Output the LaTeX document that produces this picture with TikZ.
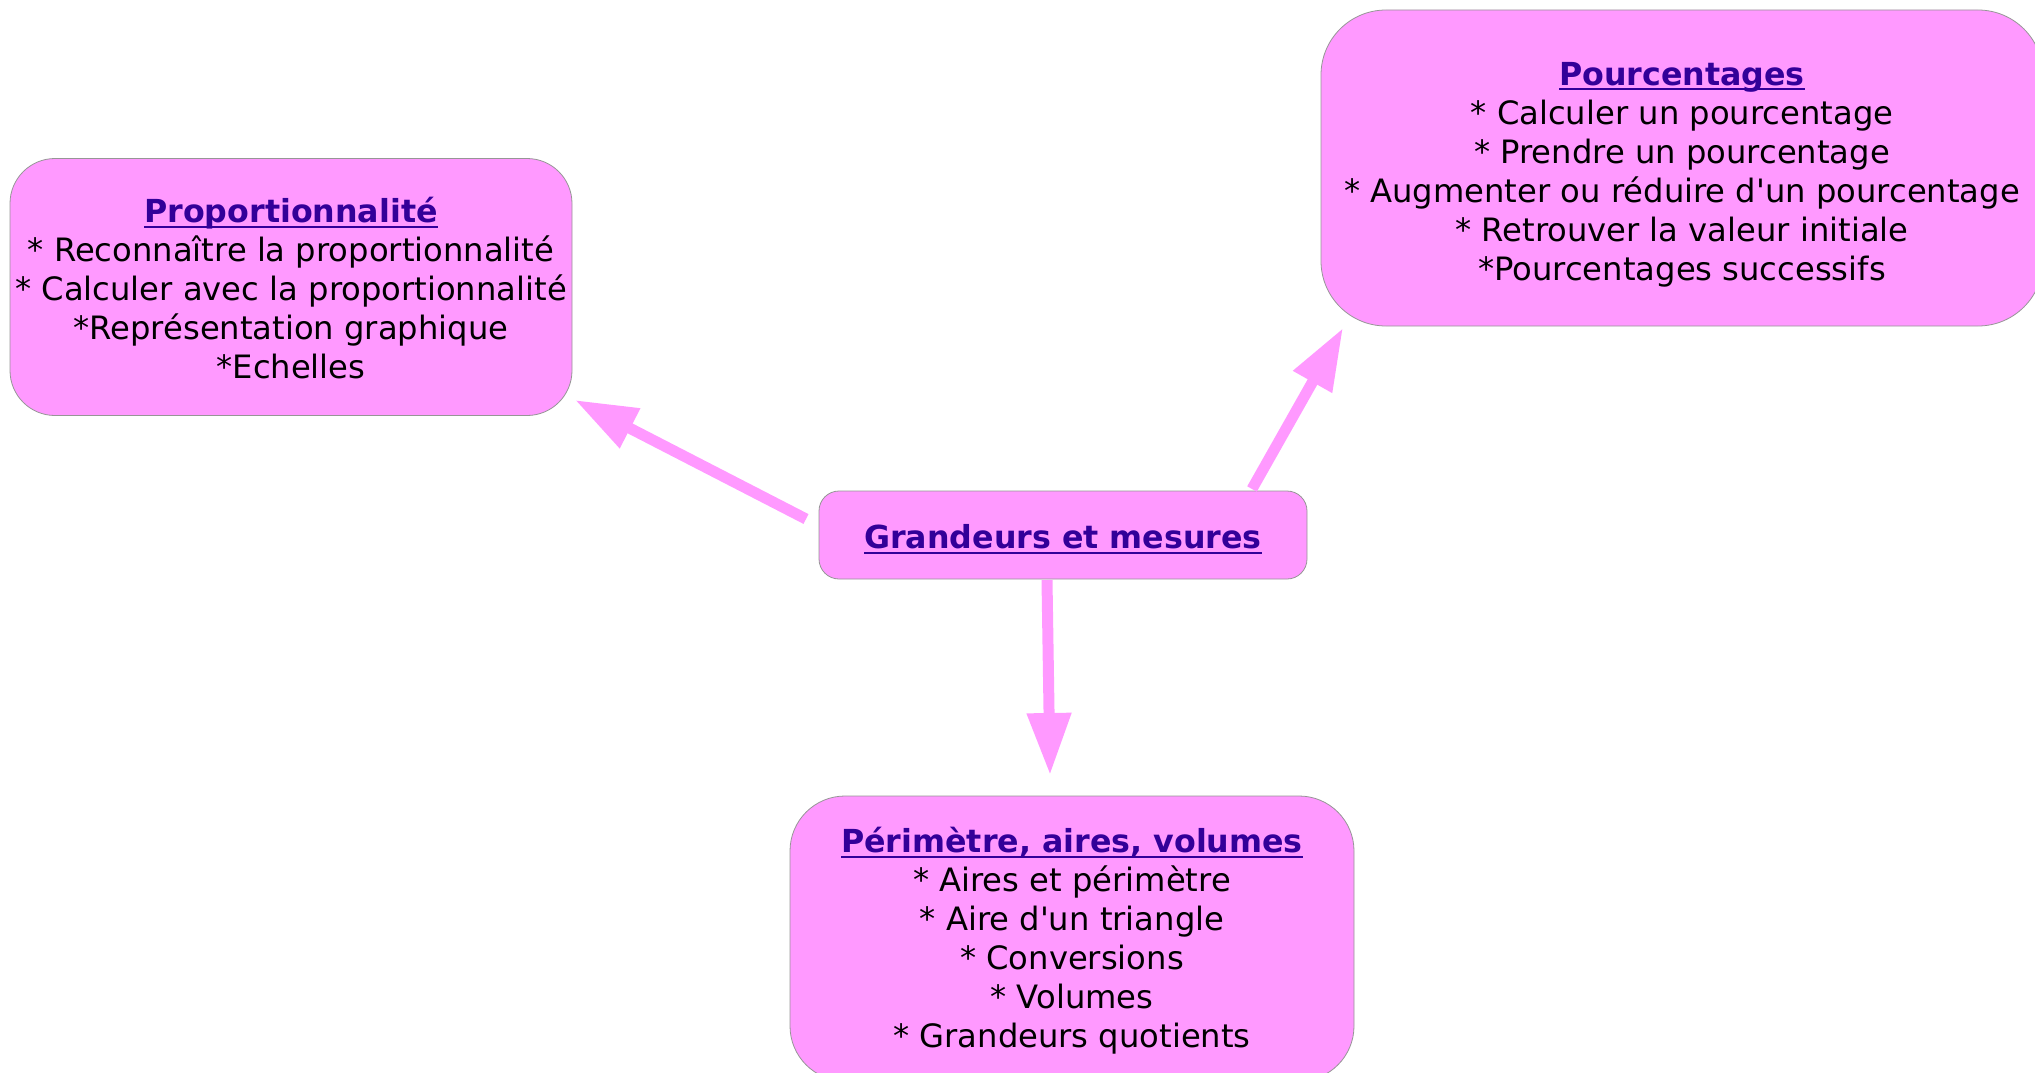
\documentclass[tikz,border=0pt]{standalone}
\usepackage{fontspec}
\setmainfont{DejaVu Sans}
\usetikzlibrary{arrows.meta}
\definecolor{boxpink}{RGB}{255,153,255}
\definecolor{hdcol}{RGB}{51,0,153}
\definecolor{edgegray}{RGB}{150,150,150}
\newcommand\hd[1]{{\color{hdcol}\fontsize{31.7}{39}\selectfont\bfseries\setbox0\hbox{#1}\rlap{\rule[-5pt]{\wd0}{2pt}}\box0}}
\newcommand\apos{\textquotesingle}
\tikzset{
  mbox/.style={draw=edgegray, line width=0.8pt, fill=boxpink,
    inner sep=0pt, outer sep=0pt},
  mtext/.style={align=center, inner sep=0pt, font={\fontsize{32.2}{39}\selectfont}},
  link/.style={draw=boxpink, line width=11pt,
    -{Triangle[width=42pt,length=62pt]}}
}
\begin{document}
\begin{tikzpicture}[x=1pt,y=-1pt]
\useasboundingbox (0,0) rectangle (2035,1073);
\clip (0,0) rectangle (2035,1073);
\node[mbox, rounded corners=45pt, minimum width=562pt, minimum height=257pt] (prop) at (291,287) {};
\node[mtext, yshift=-1.5pt] (propT) at (prop.center)
  {\hd{Proportionnalité}\\
   * Reconnaître la proportionnalité\\
   * Calculer avec la proportionnalité\\
   *Représentation graphique\\
   *Echelles};
\node[mbox, rounded corners=65pt, minimum width=722pt, minimum height=316pt] (pourc) at (1682,168) {};
\node[mtext, yshift=-6.5pt] (pourcT) at (pourc.center)
  {\hd{Pourcentages}\\
   * Calculer un pourcentage\\
   * Prendre un pourcentage\\
   * Augmenter ou réduire d\apos un pourcentage\\
   * Retrouver la valeur initiale\\
   *Pourcentages successifs};
\node[mbox, rounded corners=20pt, minimum width=488pt, minimum height=88pt] (grand) at (1063,535) {};
\node[mtext, yshift=-4pt] (grandT) at (grand.center)
  {\hd{Grandeurs et mesures}};
\node[mbox, rounded corners=55pt, minimum width=564pt, minimum height=285pt] (perim) at (1072,938.5) {};
\node[mtext, yshift=-2.6pt] (perimT) at (perim.center)
  {\hd{Périmètre, aires, volumes}\\
   * Aires et périmètre\\
   * Aire d\apos un triangle\\
   * Conversions\\
   * Volumes\\
   * Grandeurs quotients};
\coordinate (lA) at (806,519);
\coordinate (lB) at (575,400);
\coordinate (rA) at (1252,489);
\coordinate (rB) at (1343,328);
\coordinate (dA) at (1047,580);
\coordinate (dB) at (1050,775);
\draw[link] (lA) -- (lB);
\draw[link] (rA) -- (rB);
\draw[link] (dA) -- (dB);
\end{tikzpicture}
\end{document}
